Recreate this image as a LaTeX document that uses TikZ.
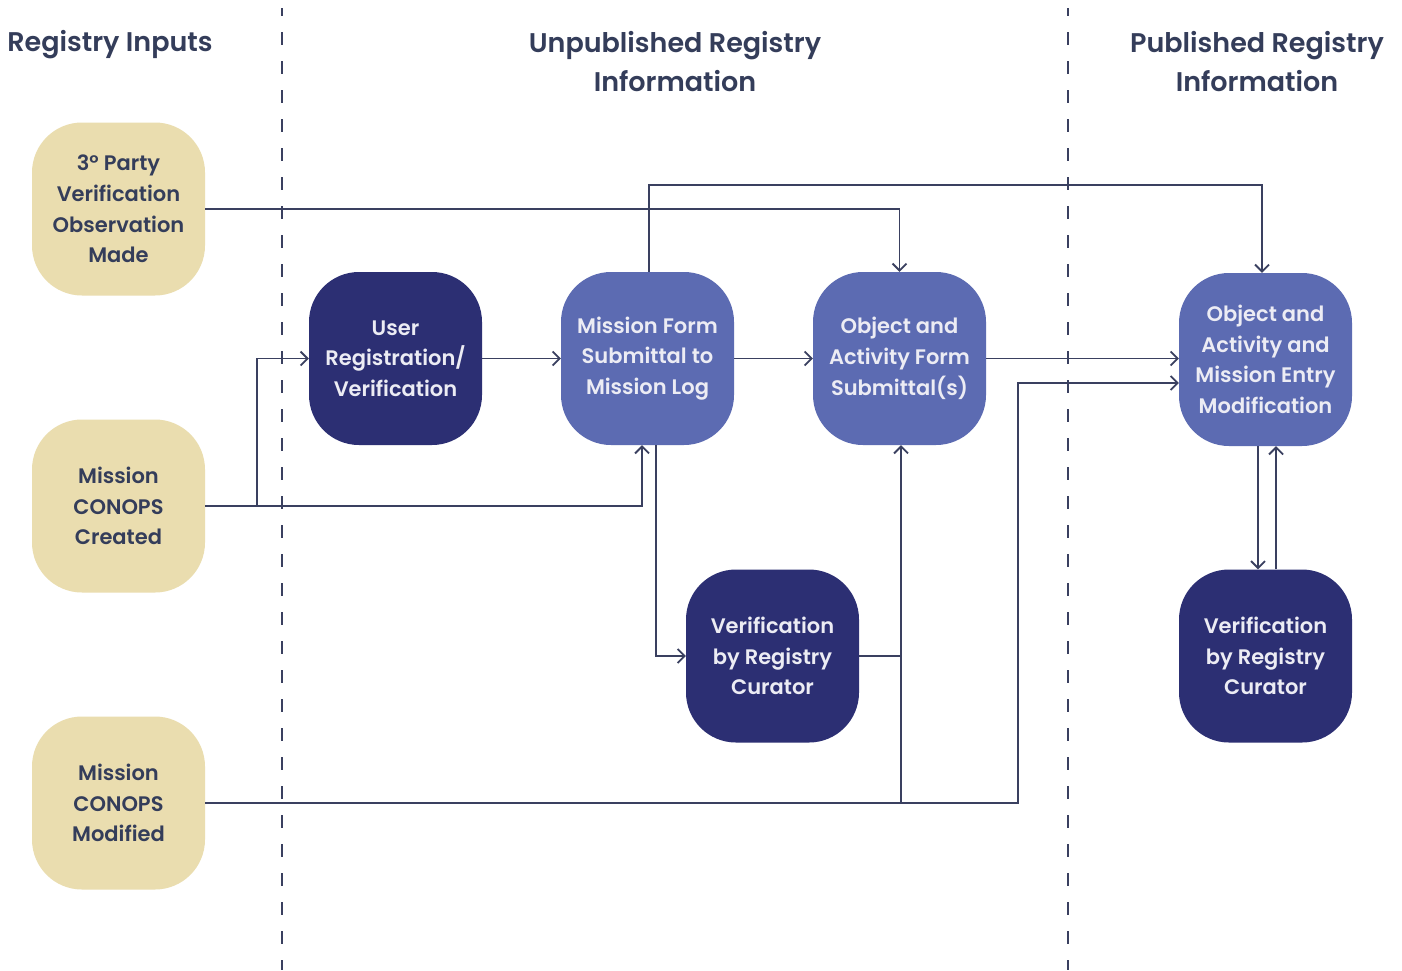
\documentclass[tikz,border=0pt]{standalone}
\usepackage{fontspec}
\setmainfont{Poppins}[UprightFont=* SemiBold, BoldFont=* Bold]
\usetikzlibrary{arrows.meta}
\definecolor{tan}{HTML}{EADDAF}
\definecolor{navy}{HTML}{2C2F73}
\definecolor{periwinkle}{HTML}{5C6BB2}
\definecolor{ink}{HTML}{343D5A}
\definecolor{wire}{HTML}{3A4060}
\definecolor{paper}{HTML}{ECECF4}
\tikzset{
  card/.style={rounded corners=50pt, minimum width=173pt, minimum height=173pt,
    align=center, inner sep=0pt, font=\fontsize{21}{30.7}\selectfont},
  inputcard/.style={card, fill=tan, text=ink},
  usercard/.style={card, fill=navy, text=paper},
  formcard/.style={card, fill=periwinkle, text=paper},
  head/.style={align=center, text=ink, font=\fontsize{27}{39}\selectfont},
  arr/.style={draw=wire, line width=1.8pt, -{Straight Barb[length=7pt,width=14pt,line width=1.8pt]}},
  wireline/.style={draw=wire, line width=1.8pt},
  divider/.style={draw=wire, line width=1.8pt, dash pattern=on 13pt off 16pt, dash phase=5pt}
}
\begin{document}
\begin{tikzpicture}[x=1pt,y=-1pt]
\useasboundingbox[fill=white] (0,0) rectangle (1402,970);

% lane dividers
\coordinate (d1top) at (282,8);  \coordinate (d1bot) at (282,970);
\coordinate (d2top) at (1068,8); \coordinate (d2bot) at (1068,970);
\draw[divider] (d1top) -- (d1bot);
\draw[divider] (d2top) -- (d2bot);

% lane headings
\node[head] (h1) at (110,44.5) {Registry Inputs};
\node[head] (h2) at (675,62) {Unpublished Registry\\Information};
\node[head] (h3) at (1257,62) {Published Registry\\Information};

% inputs
\node[inputcard] (tp) at (118.5,209) {3\textdegree{} Party\\Verification\\Observation\\Made};
\node[inputcard] (cc) at (118.5,506) {Mission\\CONOPS\\Created};
\node[inputcard] (cm) at (118.5,803) {Mission\\CONOPS\\Modified};

% unpublished
\node[usercard] (ur) at (395.5,358.5) {User\\Registration/\\Verification};
\node[formcard] (mf) at (647.5,358.5) {Mission Form\\Submittal to\\Mission Log};
\node[formcard] (ob) at (899.5,358.5) {Object and\\Activity Form\\Submittal(s)};
\node[usercard] (vc) at (772.5,656) {Verification\\by Registry\\Curator};

% published
\node[formcard] (om) at (1265.5,359.5) {Object and\\Activity and\\Mission Entry\\Modification};
\node[usercard] (vr) at (1265.5,656) {Verification\\by Registry\\Curator};

% connectors
\draw[arr] (tp.east) -| (ob.north);
\draw[arr] ([xshift=1.5pt]mf.north) -- ++(0,-87) -| ([xshift=-3.5pt]om.north);
\draw[arr] (cc.east) -| ([xshift=-5.5pt]mf.south);
\draw[arr] ([xshift=52pt]cc.east) |- (ur.west);
\draw[arr] (ur.east) -- (mf.west);
\draw[arr] (mf.east) -- (ob.west);
\draw[arr] (ob.east) -- (ob.east -| om.west);
\draw[arr] ([xshift=8.5pt]mf.south) |- (vc.west);
\draw[wireline] (vc.east) -- (vc.east -| ob.south);
\draw[arr] (cm.east) -| ([xshift=1.5pt]ob.south);
\draw[arr] (cm.east) -- ++(813,0) |- ([yshift=-23.5pt]om.west);
\draw[arr] ([xshift=-7.5pt]om.south) -- ([xshift=-7.5pt]vr.north);
\draw[arr] ([xshift=10.5pt]vr.north) -- ([xshift=10.5pt]om.south);
\end{tikzpicture}
\end{document}
